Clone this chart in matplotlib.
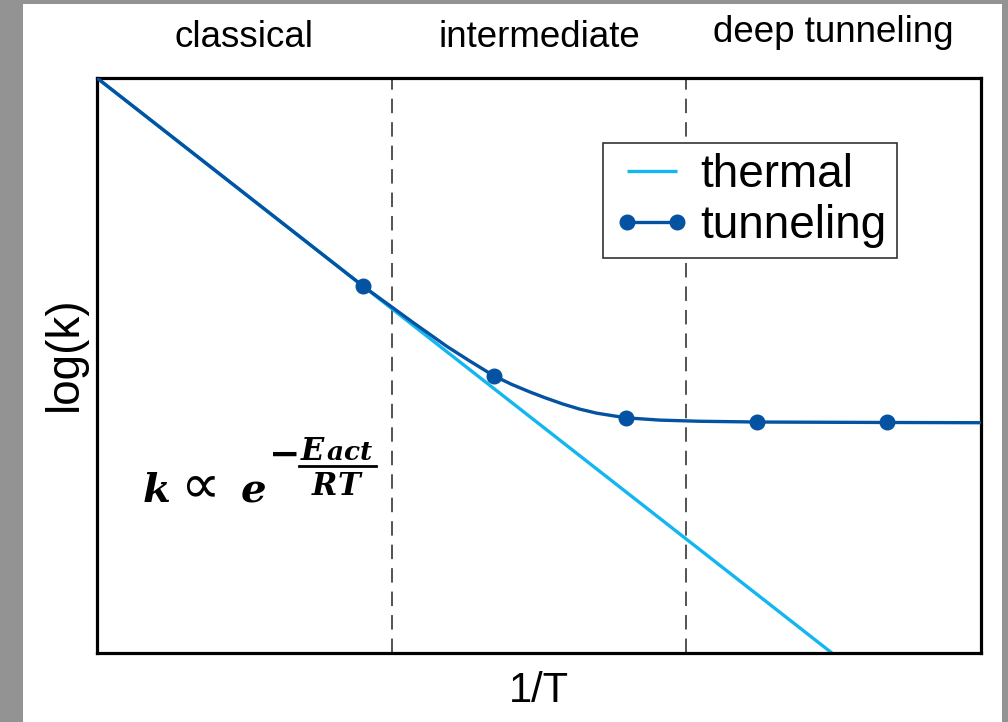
import matplotlib
matplotlib.use("Agg")
import matplotlib.pyplot as plt
from matplotlib.patches import Rectangle
from matplotlib.lines import Line2D

# ---- data ----
regions = ["classical", "intermediate", "deep tunneling"]
region_centers = [0.5, 1.5, 2.5]
region_bounds = [1.0, 2.0]

thermal_x = [0.0, 2.494]
thermal_y = [1.0, 0.0]

tunnel_x = [0.0, 0.903, 1.005, 1.072, 1.188, 1.266, 1.347, 1.408, 1.469, 1.520,
            1.581, 1.639, 1.697, 1.795, 1.911, 2.046, 2.240, 2.681, 3.0]
tunnel_y = [1.0, 0.638, 0.600, 0.575, 0.533, 0.5075, 0.482, 0.467, 0.454, 0.444,
            0.433, 0.424, 0.417, 0.409, 0.405, 0.403, 0.4017, 0.4009, 0.4005]
marker_idx = [1, 6, 13, 16, 17]

series_labels = ["thermal", "tunneling"]

# ---- styling ----
plt.rcParams['font.family'] = ['Liberation Sans', 'DejaVu Sans']
plt.rcParams['mathtext.fontset'] = 'custom'
plt.rcParams['mathtext.it'] = 'DejaVu Serif:italic:bold'
plt.rcParams['mathtext.rm'] = 'DejaVu Serif:bold'
plt.rcParams['mathtext.bf'] = 'DejaVu Serif:bold'

thermal_color = '#12B6F0'
tunnel_color = '#0452A2'

W, H = 1008, 722


def fpx(x, y):
    """pixel position (from top-left) -> figure fraction"""
    return x / W, 1 - y / H


fig = plt.figure(figsize=(W / 100, H / 100), dpi=100, facecolor='#939393')
fig.patches.append(Rectangle(fpx(23, 722), (1002 - 23) / W, (722 - 4) / H,
                             transform=fig.transFigure, facecolor='white',
                             edgecolor='none', zorder=-10))

ax = fig.add_axes([97 / W, (H - 653) / H, 884 / W, 575 / H])
ax.set_zorder(5)
ax.set_xlim(0, 3)
ax.set_ylim(0, 1)
ax.set_xticks([])
ax.set_yticks([])
for s in ax.spines.values():
    s.set_linewidth(2.3)
    s.set_color('black')

for b in region_bounds:
    ax.axvline(b, color='#444444', lw=1.3, ls=(0, (8, 5)), zorder=1)

ax.plot(thermal_x, thermal_y, color=thermal_color, lw=2.4,
        label=series_labels[0], zorder=2, solid_capstyle='butt')
ax.plot(tunnel_x, tunnel_y, color=tunnel_color, lw=2.4, marker='o', ms=10.5,
        markevery=marker_idx, label=series_labels[1], zorder=3)

for name, cx in zip(regions, region_centers):
    yb = 1.063 if name == "deep tunneling" else 1.054
    ax.text(cx, yb, name, transform=ax.get_xaxis_transform(), ha='center',
            va='baseline', fontsize=26.5, clip_on=False)

ax.set_xlabel("1/T", fontsize=30, labelpad=13)
ax.set_ylabel("log(k)", fontsize=33)
ax.yaxis.set_label_coords(-0.012, 0.52)

leg = ax.legend(loc='upper left', bbox_to_anchor=(0.5724, 0.887),
                borderaxespad=0, fontsize=33, numpoints=2, handlelength=1.7,
                handletextpad=0.2, labelspacing=0.15, borderpad=0.22,
                fancybox=False, framealpha=1, edgecolor='#333333')
leg.get_frame().set_linewidth(1.2)

# formula  k ∝ e^(-E_act/RT), typeset piece by piece
tf = fig.transFigure
ax.text(*fpx(142, 502), r'$k$', fontsize=29, ha='left', va='baseline',
        transform=tf, zorder=4)
ax.text(*fpx(200, 502), '\u221d', fontsize=40, ha='center', va='baseline',
        family='DejaVu Sans', transform=tf, zorder=4)
ax.text(*fpx(240, 502), r'$e$', fontsize=29, ha='left', va='baseline',
        transform=tf, zorder=4)
ax.text(*fpx(269, 455), '\u2212', fontsize=27, ha='left', va='center',
        family='DejaVu Serif', weight='bold', transform=tf, zorder=4)
ax.text(*fpx(300, 460), r'$E$', fontsize=22, ha='left', va='baseline',
        transform=tf, zorder=4)
ax.text(*fpx(326, 460), r'$act$', fontsize=19, ha='left', va='baseline',
        transform=tf, zorder=4)
ax.add_line(Line2D([fpx(299, 0)[0], fpx(376, 0)[0]],
                   [fpx(0, 466)[1]] * 2, transform=tf, color='black',
                   lw=2.0, clip_on=False, zorder=4))
ax.text(*fpx(337, 495), r'$RT$', fontsize=22, ha='center', va='baseline',
        transform=tf, zorder=4)

fig.savefig("out.png", dpi=100, facecolor=fig.get_facecolor())
